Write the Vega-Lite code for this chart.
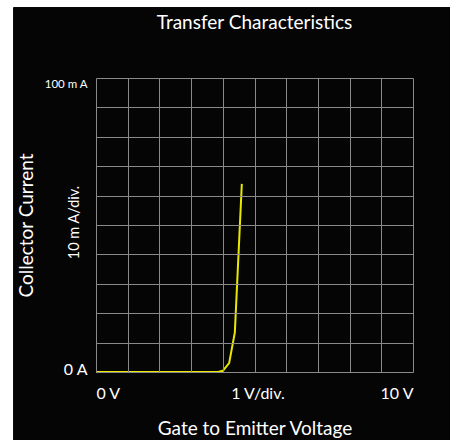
{
  "$schema": "https://vega.github.io/schema/vega-lite/v6.json",
  "width": 317,
  "height": 294,
  "autosize": "none",
  "padding": {"left": 96, "top": 78, "right": 37, "bottom": 68},
  "background": "white",
  "title": {"text": "Transfer Characteristics", "color": "white", "font": "Lato", "fontSize": 19, "fontWeight": "normal", "offset": -26, "anchor": "middle"},
  "config": {"view": {"stroke": null}},
  "data": {"values": [
    {"v": 0, "i": 0},
    {"v": 3.85, "i": 0},
    {"v": 4.0, "i": 0.4},
    {"v": 4.2, "i": 3},
    {"v": 4.38, "i": 13.5},
    {"v": 4.6, "i": 64}
  ]},
  "layer": [
    {
      "mark": {"type": "rect", "color": "#050505", "clip": false},
      "encoding": {
        "x": {"datum": -2.6, "type": "quantitative", "scale": {"domain": [0, 10], "nice": false, "zero": false},
          "axis": {"values": [0,1,2,3,4,5,6,7,8,9,10], "labelExpr": "datum.value == 0 ? '0  V' : datum.value == 10 ? '10  V' : datum.value == 5 ? '1  V/div.' : ''",
            "labelFlush": true, "labelOverlap": false, "ticks": false, "domain": false, "grid": true, "gridColor": "#8a8a8a", "gridWidth": 1, "zindex": 1,
            "labelColor": "white", "labelFont": "Lato", "labelFontSize": 16, "labelPadding": 13,
            "labelOffset": {"condition": {"test": "datum.value == 5", "value": 3}, "value": 0},
            "title": "Gate to Emitter Voltage", "titleColor": "white", "titleFont": "Lato", "titleFontSize": 19, "titleFontWeight": "normal",
            "titleY": 62, "titleBaseline": "alphabetic"}},
        "x2": {"datum": 11.2},
        "y": {"datum": 124, "type": "quantitative", "scale": {"domain": [0, 100], "nice": false, "zero": false},
          "axis": {"orient": "left", "labels": false, "ticks": false, "domain": false, "grid": false, "zindex": 1,
            "title": "10 m A/div.", "titleColor": "white", "titleFont": "Lato", "titleFontSize": 14.5, "titleFontWeight": "normal",
            "titleX": -18, "titleY": 144, "titleBaseline": "alphabetic", "titleAlign": "center", "titleAngle": -90}},
        "y2": {"datum": -24}
      }
    },
    {
      "mark": {"type": "line", "color": "#e8e800", "strokeWidth": 2},
      "encoding": {
        "x": {"field": "v", "type": "quantitative", "scale": {"domain": [0, 10], "nice": false, "zero": false},
          "axis": {"values": [0,1,2,3,4,5,6,7,8,9,10], "labelExpr": "datum.value == 0 ? '0  V' : datum.value == 10 ? '10  V' : datum.value == 5 ? '1  V/div.' : ''",
            "labelFlush": true, "labelOverlap": false, "ticks": false, "domain": false, "grid": true, "gridColor": "#8a8a8a", "gridWidth": 1, "zindex": 1,
            "labelColor": "white", "labelFont": "Lato", "labelFontSize": 16, "labelPadding": 13,
            "labelOffset": {"condition": {"test": "datum.value == 5", "value": 3}, "value": 0},
            "title": "Gate to Emitter Voltage", "titleColor": "white", "titleFont": "Lato", "titleFontSize": 19, "titleFontWeight": "normal",
            "titleY": 62, "titleBaseline": "alphabetic"}},
        "y": {"field": "i", "type": "quantitative", "scale": {"domain": [0, 100], "nice": false, "zero": false},
          "axis": {"orient": "left", "values": [0,10,20,30,40,50,60,70,80,90,100], "labelExpr": "datum.value == 0 ? '0  A' : datum.value == 100 ? '100 m A' : ''",
            "labelOverlap": false, "ticks": false, "domain": false, "grid": true, "gridColor": "#8a8a8a", "gridWidth": 1, "zindex": 1,
            "labelColor": "white", "labelFont": "Lato", "labelPadding": 9,
            "labelFontSize": {"condition": {"test": "datum.value == 100", "value": 11.5}, "value": 16},
            "labelBaseline": {"condition": {"test": "datum.value == 100", "value": "top"}, "value": "middle"},
            "labelOffset": {"condition": {"test": "datum.value == 0", "value": -3}, "value": 0},
            "title": "Collector Current", "titleColor": "white", "titleFont": "Lato", "titleFontSize": 19, "titleFontWeight": "normal",
            "titleX": -64, "titleY": 147, "titleBaseline": "alphabetic", "titleAlign": "center", "titleAngle": -90}}
      }
    }
  ],
  "resolve": {"scale": {"y": "independent"}}
}
